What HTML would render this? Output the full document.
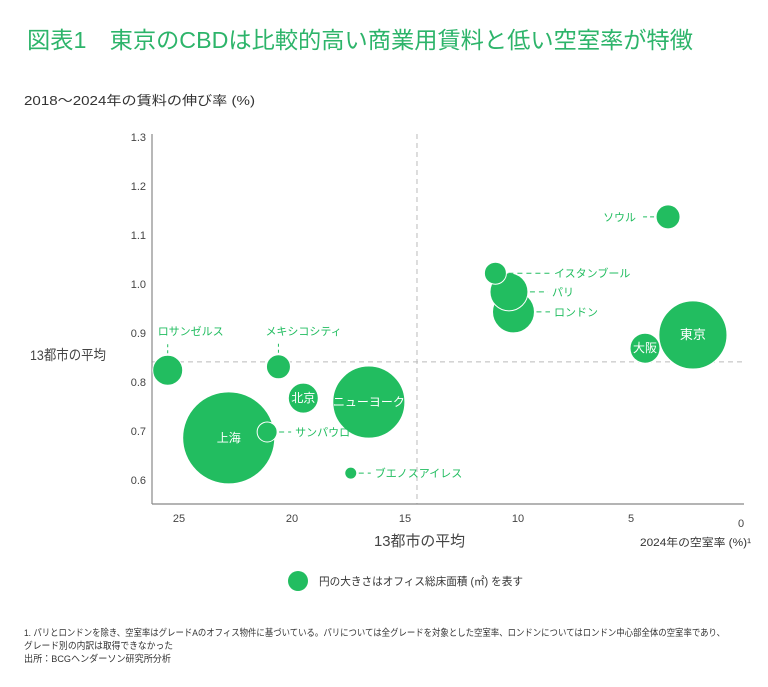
<!DOCTYPE html>
<html><head><meta charset="utf-8"><style>
html,body{margin:0;padding:0;background:#fff;}
svg{display:block;font-family:"Liberation Sans","Noto Sans CJK JP",sans-serif;}
</style></head><body>
<svg id="chart" width="768" height="687" viewBox="0 0 768 687">
<text x="27" y="48" font-size="23" fill="#2DB46A" textLength="666" lengthAdjust="spacingAndGlyphs">図表1　東京のCBDは比較的高い商業用賃料と低い空室率が特徴</text>
<text x="24" y="105" font-size="13" fill="#333" textLength="231" lengthAdjust="spacingAndGlyphs">2018～2024年の賃料の伸び率 (%)</text>
<g id="grid"></g>
<g id="axes"></g>
<g id="marks"></g>
<g id="labels"></g>
<text x="30" y="360" font-size="14" fill="#444" textLength="76" lengthAdjust="spacingAndGlyphs">13都市の平均</text>
<text x="374" y="546" font-size="15" fill="#444" textLength="91" lengthAdjust="spacingAndGlyphs">13都市の平均</text>
<text x="640" y="546" font-size="11" fill="#333" textLength="111" lengthAdjust="spacingAndGlyphs">2024年の空室率 (%)¹</text>
<circle cx="298" cy="581" r="10" fill="#22BD60"/>
<text x="319" y="585" font-size="11" fill="#333" textLength="204" lengthAdjust="spacingAndGlyphs">円の大きさはオフィス総床面積 (㎡) を表す</text>
<text x="24" y="636" font-size="9.5" fill="#333" textLength="701" lengthAdjust="spacingAndGlyphs">1. パリとロンドンを除き、空室率はグレードAのオフィス物件に基づいている。パリについては全グレードを対象とした空室率、ロンドンについてはロンドン中心部全体の空室率であり、</text>
<text x="24" y="649" font-size="9.5" fill="#333" textLength="149" lengthAdjust="spacingAndGlyphs">グレード別の内訳は取得できなかった</text>
<text x="24" y="662" font-size="9.5" fill="#333" textLength="147" lengthAdjust="spacingAndGlyphs">出所：BCGヘンダーソン研究所分析</text>
</svg>
<script>
const cities = ["東京","大阪","ソウル","ロンドン","パリ","イスタンブール","ロサンゼルス","メキシコシティ","北京","ニューヨーク","上海","サンパウロ","ブエノスアイレス"];
const vacancy = [2.26,4.38,3.36,10.2,10.4,11.0,25.5,20.6,19.5,16.6,22.8,21.1,17.4];
const rentGrowth = [0.896,0.869,1.137,0.943,0.984,1.022,0.824,0.831,0.767,0.759,0.686,0.698,0.614];
const floorArea = [11.6,2.25,1.44,4.4,3.6,1.21,2.25,1.44,2.25,13.0,21.2,1.0,0.36];
const xTicks = [25,20,15,10,5,0];
const yTicks = [0.6,0.7,0.8,0.9,1.0,1.1,1.2,1.3];
const avgVacancy = 14.47;
const avgRent = 0.841;

const NS="http://www.w3.org/2000/svg";
const X0=744, XS=22.6, Y0=333, YS=490;
function xs(v){return X0 - v*XS;}
function ys(v){return Y0 - (v-0.9)*YS;}
function rs(a){return Math.sqrt(a)*10;}
function mk(tag,attrs,parent,txt){const e=document.createElementNS(NS,tag);for(const k in attrs)e.setAttribute(k,attrs[k]);if(txt!==undefined)e.textContent=txt;parent.appendChild(e);return e;}
const gridG=document.getElementById('grid'),axesG=document.getElementById('axes'),marksG=document.getElementById('marks'),labelsG=document.getElementById('labels');
const plotLeft=152,plotRight=744,plotBottom=504,plotTop=134;

let g=mk('line',{x1:xs(avgVacancy),x2:xs(avgVacancy),y1:plotTop,y2:plotBottom,stroke:'#bbb','stroke-dasharray':'5,4'},gridG);


g=mk('line',{x1:plotLeft,x2:plotRight,y1:ys(avgRent),y2:ys(avgRent),stroke:'#bbb','stroke-dasharray':'5,4'},gridG);



let a=mk('line',{x1:plotLeft,x2:plotLeft,y1:plotTop,y2:plotBottom,stroke:'#888','stroke-width':1.2},axesG);


a=mk('line',{x1:plotLeft,x2:plotRight,y1:plotBottom,y2:plotBottom,stroke:'#888','stroke-width':1.2},axesG);


yTicks.forEach(t=>{
  const e=mk('text',{x:146,y:ys(t)+4,'font-size':11,fill:'#444','text-anchor':'end'},axesG,t.toFixed(1));
  
  
});
xTicks.forEach(t=>{
  const e=mk('text',{x:xs(t)-(t===0?3:0),y:t===0?527:522,'font-size':11,fill:'#444','text-anchor':'middle'},axesG,String(t));
  
  
});

const inside={"東京":1,"大阪":1,"北京":1,"ニューヨーク":1,"上海":1};
const order=[0,1,3,4,5,2,6,7,8,9,10,11,12];
order.forEach(i=>{
  const cx=xs(vacancy[i]),cy=ys(rentGrowth[i]),r=rs(floorArea[i]);
  const c=mk('circle',{cx:cx,cy:cy,r:r,fill:'#22BD60',stroke:'#fff','stroke-width':1},marksG);
  
  
});
cities.forEach((n,i)=>{
  const cx=xs(vacancy[i]),cy=ys(rentGrowth[i]),r=rs(floorArea[i]);
  let t;
  if(inside[n]){
    t=mk('text',{x:cx,y:cy+4,'font-size':n==='東京'?13:12,fill:'#fff','text-anchor':'middle'},labelsG,n);
  } else if(n==='ソウル'){
    mk('line',{x1:cx-r-2,x2:cx-r-16,y1:cy,y2:cy,stroke:'#22BD60','stroke-dasharray':'4,3'},labelsG);
    t=mk('text',{x:cx-r-20,y:cy+4,'font-size':11,fill:'#22BD60','text-anchor':'end'},labelsG,n);
  } else if(n==='ロサンゼルス'||n==='メキシコシティ'){
    mk('line',{x1:cx,x2:cx,y1:cy-r-2,y2:cy-r-14,stroke:'#22BD60','stroke-dasharray':'3,3'},labelsG);
    t=mk('text',{x:cx-(n==='ロサンゼルス'?10:13),y:cy-r-20,'font-size':11,fill:'#22BD60'},labelsG,n);
  } else {
    const ends={"イスタンブール":550,"パリ":548,"ロンドン":550};
    const x2=ends[n]||cx+r+14;
    mk('line',{x1:cx+r+2,x2:x2,y1:cy,y2:cy,stroke:'#22BD60','stroke-dasharray':'5,4'},labelsG);
    t=mk('text',{x:x2+4,y:cy+4,'font-size':11,fill:'#22BD60'},labelsG,n);
  }
  
  
});
</script>
</body></html>
